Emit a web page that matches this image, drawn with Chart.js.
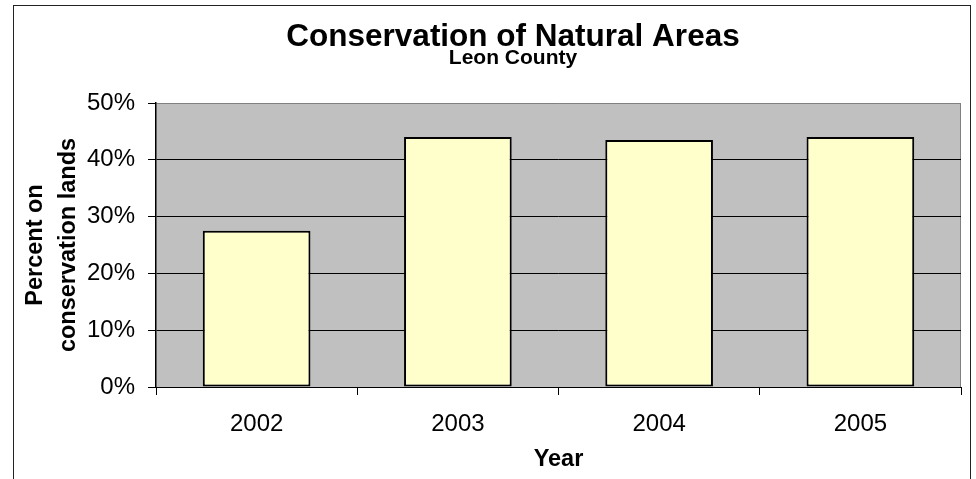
<!DOCTYPE html>
<html>
<head>
<meta charset="utf-8">
<script src="https://cdn.jsdelivr.net/npm/chart.js@4"></script>
<style>
  body { margin: 0; background: #fff; overflow: hidden; width: 976px; height: 479px; position: relative; }
  #frame { position: absolute; left: 13px; top: 5px; width: 956px; height: 500px; border: 1px solid #222; }
  #myChart { position: absolute; left: 0; top: 0; }
</style>
</head>
<body>
<div id="frame"></div>
<canvas id="myChart" width="1026" height="479"></canvas>
<script>
const years = ['2002', '2003', '2004', '2005'];
const percent = [27.5, 44.0, 43.5, 44.0];
const yTicks = [0, 10, 20, 30, 40, 50];

const fam = "'Liberation Sans', Arial, sans-serif";

// gray plot area + right edge, like the old Excel look
const plotBg = {
  id: 'plotBg',
  beforeDraw(chart) {
    const { ctx, chartArea: a } = chart;
    ctx.save();
    ctx.fillStyle = '#C0C0C0';
    ctx.fillRect(a.left, a.top, a.right - a.left, a.bottom - a.top);
    ctx.strokeStyle = '#808080';
    ctx.lineWidth = 1;
    ctx.beginPath();
    ctx.moveTo(a.right - 0.5, a.top);
    ctx.lineTo(a.right - 0.5, a.bottom);
    ctx.stroke();
    ctx.restore();
  }
};

const ctx = document.getElementById('myChart').getContext('2d');
new Chart(ctx, {
  type: 'bar',
  data: {
    labels: years,
    datasets: [{
      data: percent,
      backgroundColor: '#FFFFCC',
      borderColor: '#000',
      borderWidth: 2,
      borderSkipped: false,
      barPercentage: 0.535,
      categoryPercentage: 1
    }]
  },
  options: {
    responsive: false,
    animation: false,
    layout: { padding: 0 },
    plugins: {
      legend: { display: false },
      tooltip: { enabled: false },
      title: {
        display: true,
        text: 'Conservation of Natural Areas',
        color: '#000',
        font: { family: fam, size: 31.5, weight: 'bold', lineHeight: 1 },
        padding: { top: 22, bottom: -5.5 }
      },
      subtitle: {
        display: true,
        text: 'Leon County',
        color: '#000',
        font: { family: fam, size: 21, weight: 'bold', lineHeight: 1 },
        padding: { top: 0, bottom: 34 }
      }
    },
    scales: {
      x: {
        offset: true,
        grid: { offset: true, drawOnChartArea: false, drawTicks: true, tickLength: 8, color: '#000' },
        border: { color: '#000', width: 1 },
        ticks: { color: '#000', padding: 15, font: { family: fam, size: 24 } },
        title: {
          display: true,
          text: 'Year',
          color: '#000',
          font: { family: fam, size: 23.5, weight: 'bold' },
          padding: { top: 0, bottom: 5 }
        },
        afterFit: s => { s.height = 92; }
      },
      y: {
        min: 0,
        max: 50,
        afterBuildTicks: s => { s.ticks = yTicks.map(v => ({ value: v })); },
        grid: {
          color: c => (c.tick && c.tick.value === 50) ? '#808080' : '#000',
          tickColor: '#000',
          tickLength: 8
        },
        border: { color: '#000', width: 1.5 },
        ticks: {
          color: '#000',
          padding: 13,
          font: { family: fam, size: 24 },
          callback: v => v + '%'
        },
        title: {
          display: true,
          text: ['Percent on', 'conservation lands'],
          color: '#000',
          font: { family: fam, size: 23.5, weight: 'bold', lineHeight: 1.4 },
          padding: { top: 19, bottom: 0 }
        },
        afterFit: s => { s.width = 156; }
      },
      // empty right axis, only there so the title centre sits where it does in the original
      pad: {
        type: 'linear',
        position: 'right',
        grid: { display: false },
        border: { display: false },
        ticks: { display: false },
        afterFit: s => { s.width = 65; }
      }
    }
  },
  plugins: [plotBg]
});
</script>
</body>
</html>
